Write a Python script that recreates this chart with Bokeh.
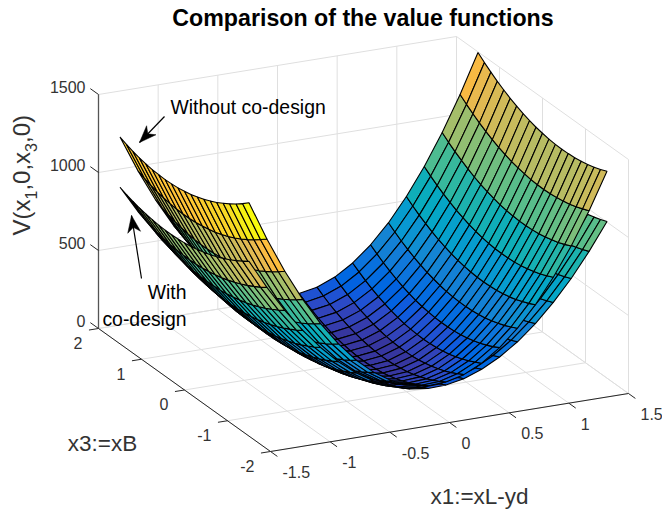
from bokeh.plotting import figure
from bokeh.embed import file_html
from bokeh.resources import INLINE
from bokeh.core.properties import value
import math

x1_grid = [-1.5,-1.35,-1.2,-1.05,-0.9,-0.75,-0.6,-0.45,-0.3,-0.15,0,0.15,0.3,0.45,0.6,0.75,0.9,1.05,1.2,1.35,1.5]
x3_grid = [-1.5,-1.35,-1.2,-1.05,-0.9,-0.75,-0.6,-0.45,-0.3,-0.15,0,0.15,0.3,0.45,0.6,0.75,0.9,1.05,1.2,1.35,1.5]

# rows: x1, columns: x3
V_without = [
[1496,1461,1429,1400,1374,1350,1330,1311,1296,1283,1274,1266,1262,1260,1262,1265,1272,1281,1293,1308,1326],
[1245,1212,1181,1152,1127,1104,1084,1067,1052,1041,1032,1025,1022,1021,1023,1028,1035,1045,1058,1074,1092],
[1020,987,957,930,905,883,864,848,834,823,815,810,807,807,810,815,824,835,848,865,884],
[821,789,759,733,709,688,670,654,641,631,624,619,618,619,622,629,638,650,664,682,702],
[647,616,587,562,539,518,501,486,474,465,459,455,454,456,460,467,477,490,506,524,545],
[498,468,440,416,393,374,357,344,332,324,318,316,315,318,323,331,342,356,372,391,413],
[375,346,319,295,274,255,239,226,216,209,204,202,203,206,212,221,233,247,264,284,307],
[277,249,223,200,179,162,147,135,125,119,115,113,115,119,126,136,149,164,182,203,226],
[205,177,152,130,110,94,80,68,60,54,51,51,53,58,66,77,90,106,125,147,171],
[159,132,107,86,67,51,38,28,20,15,13,13,17,23,31,43,57,74,94,116,142],
[137,111,88,67,49,34,22,12,6,1,0,1,6,12,22,34,49,67,88,111,137],
[142,116,94,74,57,43,31,23,17,13,13,15,20,28,38,51,67,86,107,132,159],
[171,147,125,106,90,77,66,58,53,51,51,54,60,68,80,94,110,130,152,177,205],
[226,203,182,164,149,136,126,119,115,113,115,119,125,135,147,162,179,200,223,249,277],
[307,284,264,247,233,221,212,206,203,202,204,209,216,226,239,255,274,295,319,346,375],
[413,391,372,356,342,331,323,318,315,316,318,324,332,344,357,374,393,416,440,468,498],
[545,524,506,490,477,467,460,456,454,455,459,465,474,486,501,518,539,562,587,616,647],
[702,682,664,650,638,629,622,619,618,619,624,631,641,654,670,688,709,733,759,789,821],
[884,865,848,835,824,815,810,807,807,810,815,823,834,848,864,883,905,930,957,987,1020],
[1092,1074,1058,1045,1035,1028,1023,1021,1022,1025,1032,1041,1052,1067,1084,1104,1127,1152,1181,1212,1245],
[1326,1308,1293,1281,1272,1265,1262,1260,1262,1266,1274,1283,1296,1311,1330,1350,1374,1400,1429,1461,1496],
]
V_with = [
[1120,1092,1066,1042,1021,1002,985,971,959,950,943,938,936,936,939,944,951,961,973,987,1004],
[935,907,882,859,838,820,804,790,779,770,764,760,758,759,762,767,775,785,798,813,831],
[769,742,717,694,674,656,641,628,618,609,603,600,599,600,604,610,618,629,643,658,676],
[622,595,571,549,529,512,497,485,475,467,462,459,459,461,465,472,481,492,506,522,541],
[494,467,444,422,403,387,372,361,351,344,339,337,337,340,345,352,361,373,388,405,424],
[384,358,335,314,296,280,266,255,246,240,236,234,235,238,243,251,261,274,289,306,326],
[293,268,246,226,208,192,179,169,160,154,151,150,151,155,161,169,180,193,209,227,247],
[222,197,175,155,138,123,111,101,93,88,85,84,86,90,97,106,117,131,147,166,187],
[169,145,123,104,88,73,61,52,45,40,38,38,40,45,52,62,74,88,105,124,145],
[135,111,90,72,56,42,31,22,15,11,9,10,13,18,26,36,49,64,81,101,123],
[119,97,76,58,43,30,19,11,5,1,0,1,5,11,19,30,43,58,76,97,119],
[123,101,81,64,49,36,26,18,13,10,9,11,15,22,31,42,56,72,90,111,135],
[145,124,105,88,74,62,52,45,40,38,38,40,45,52,61,73,88,104,123,145,169],
[187,166,147,131,117,106,97,90,86,84,85,88,93,101,111,123,138,155,175,197,222],
[247,227,209,193,180,169,161,155,151,150,151,154,160,169,179,192,208,226,246,268,293],
[326,306,289,274,261,251,243,238,235,234,236,240,246,255,266,280,296,314,335,358,384],
[424,405,388,373,361,352,345,340,337,337,339,344,351,361,372,387,403,422,444,467,494],
[541,522,506,492,481,472,465,461,459,459,462,467,475,485,497,512,529,549,571,595,622],
[676,658,643,629,618,610,604,600,599,600,603,609,618,628,641,656,674,694,717,742,769],
[831,813,798,785,775,767,762,759,758,760,764,770,779,790,804,820,838,859,882,907,935],
[1004,987,973,961,951,944,939,936,936,938,943,950,959,971,985,1002,1021,1042,1066,1092,1120],
]

x1_ticks=[-1.5,-1,-0.5,0,0.5,1,1.5]; x1_labels=["-1.5","-1","-0.5","0","0.5","1","1.5"]
x3_ticks=[-2,-1,0,1,2]; x3_labels=["-2","-1","0","1","2"]
z_ticks=[0,500,1000,1500]; z_labels=["0","500","1000","1500"]
title="Comparison of the value functions"
annotation_without="Without co-design"
annotation_with=["With","co-design"]
x1_name="x1:=xL-yd"; x3_name="x3:=xB"

PARULA=[[0.2081,0.1663,0.5292],[0.2116,0.1898,0.5777],[0.2123,0.2138,0.6270],[0.2081,0.2386,0.6771],[0.1959,0.2645,0.7279],[0.1707,0.2919,0.7792],[0.1253,0.3242,0.8303],[0.0591,0.3598,0.8683],[0.0117,0.3875,0.8820],[0.0060,0.4086,0.8828],[0.0165,0.4266,0.8786],[0.0329,0.4430,0.8720],[0.0498,0.4586,0.8641],[0.0629,0.4737,0.8554],[0.0723,0.4887,0.8467],[0.0779,0.5040,0.8384],[0.0793,0.5200,0.8312],[0.0749,0.5375,0.8263],[0.0641,0.5570,0.8240],[0.0488,0.5772,0.8228],[0.0343,0.5966,0.8199],[0.0265,0.6137,0.8135],[0.0239,0.6287,0.8038],[0.0231,0.6418,0.7913],[0.0228,0.6535,0.7768],[0.0267,0.6642,0.7607],[0.0384,0.6743,0.7436],[0.0590,0.6838,0.7254],[0.0843,0.6928,0.7062],[0.1133,0.7015,0.6859],[0.1453,0.7098,0.6646],[0.1801,0.7177,0.6424],[0.2178,0.7250,0.6193],[0.2586,0.7317,0.5954],[0.3022,0.7376,0.5712],[0.3482,0.7424,0.5473],[0.3953,0.7459,0.5244],[0.4420,0.7481,0.5033],[0.4871,0.7491,0.4840],[0.5300,0.7491,0.4661],[0.5709,0.7485,0.4494],[0.6099,0.7473,0.4337],[0.6473,0.7456,0.4188],[0.6834,0.7435,0.4044],[0.7184,0.7411,0.3905],[0.7525,0.7384,0.3768],[0.7858,0.7356,0.3633],[0.8185,0.7327,0.3498],[0.8507,0.7299,0.3360],[0.8824,0.7274,0.3217],[0.9139,0.7258,0.3063],[0.9450,0.7261,0.2886],[0.9739,0.7314,0.2666],[0.9938,0.7455,0.2403],[0.9990,0.7653,0.2164],[0.9955,0.7861,0.1967],[0.9880,0.8066,0.1794],[0.9789,0.8271,0.1633],[0.9697,0.8481,0.1475],[0.9626,0.8705,0.1309],[0.9589,0.8949,0.1132],[0.9598,0.9218,0.0948],[0.9661,0.9514,0.0755],[0.9763,0.9831,0.0538]]
CMAX=1497.0
def col(v):
    k=min(63,int(v/CMAX*62)+2)
    r,g,b=PARULA[k]
    return "#%02x%02x%02x"%(int(r*255),int(g*255),int(b*255))

# orthographic view of the 3-D box
def U(x1,x3): return 363+119.33*x1-43*x3
def W(x1,x3,z): return 360.5-19.33*x1-30.75*x3-0.156*z
def depth(x1,x3,z): return -40248*x1/3-83772*x3/4+54010*z/1500

p=figure(width=662,height=510,x_range=(0,662),y_range=(510,0),output_backend="svg",toolbar_location=None,
         min_border=0,outline_line_color=None,background_fill_color="white")
p.xaxis.visible=False;p.yaxis.visible=False;p.grid.visible=False
FONT=value("Liberation Sans");DARK="#333333"
def seg(a,b,color,w=1.0):
    p.line([U(a[0],a[1]),U(b[0],b[1])],[W(*a),W(*b)],line_color=color,line_width=w)
GRID="#dfdfdf"
for t in x1_ticks:
    seg((t,-2,0),(t,2,0),GRID); seg((t,2,0),(t,2,1500),GRID)
for t in x3_ticks:
    seg((-1.5,t,0),(1.5,t,0),GRID); seg((1.5,t,0),(1.5,t,1500),GRID)
for z in z_ticks:
    seg((-1.5,2,z),(1.5,2,z),GRID); seg((1.5,2,z),(1.5,-2,z),GRID)
AX="#262626"
seg((-1.5,2,0),(-1.5,-2,0),AX);seg((-1.5,-2,0),(1.5,-2,0),AX);seg((-1.5,2,0),(-1.5,2,1500),"#555555",1.3)
for t in x3_ticks: seg((-1.5,t,0),(-1.58,t,0),AX)
for t in x1_ticks: seg((t,-2,0),(t,-2.16,0),AX)
for z in z_ticks: seg((-1.5,2,z),(-1.5,2.19,z),AX)

faces=[]
for V in (V_without,V_with):
    for i in range(20):
        for j in range(20):
            idx=[(i,j),(i+1,j),(i+1,j+1),(i,j+1)]
            xs=[x1_grid[a] for a,b in idx];ys=[x3_grid[b] for a,b in idx];zs=[V[a][b] for a,b in idx]
            faces.append((depth(sum(xs)/4,sum(ys)/4,sum(zs)/4),
                          [U(a,b) for a,b in zip(xs,ys)],[W(a,b,c) for a,b,c in zip(xs,ys,zs)],col(V[i][j])))
faces.sort(key=lambda f:f[0])
p.patches([f[1] for f in faces],[f[2] for f in faces],fill_color=[f[3] for f in faces],line_color="black",line_width=1.1)

def label(x,y,t,size,align="center",bl="middle",color=DARK,style="normal",angle=0):
    p.text([x],[y],[t],text_font=FONT,text_font_size=f"{size}px",text_align=align,text_baseline=bl,text_color=color,text_font_style=style,angle=angle)
for t,s in zip(x1_ticks,x1_labels): label(U(t,-2)+12,W(t,-2,0)+20.5,s,16,"left")
for t,s in zip(x3_ticks,x3_labels): label(U(-1.5,t)-16,W(-1.5,t,0)+14.5,s,16,"right")
for z,s in zip(z_ticks,z_labels): label(85,W(-1.5,2,z)-7,s,16,"right")
label(362.5,17,title,23.2,style="bold",color="black")
label(102,443,x3_name,22.5,"center")
label(479,496,x1_name,22.5,"center")
label(170,106,annotation_without,19.4,"left",color="black")
label(186,291,annotation_with[0],19.4,"right",color="black")
label(186,318,annotation_with[1],19.4,"right",color="black")
a=math.pi/2
y=235
for t,s,x,w in [("V(x",24,21,1.5),("1",16,30.5,.556),(",0,x",24,21,1.612),("3",16,30.5,.556),(",0)",24,21,1.167)]:
    label(x,y,t,s,"left","alphabetic",angle=a)
    y-=w*s
def arrow(x0,y0,x1,y1):
    p.line([x0,x1],[y0,y1],line_color="black",line_width=1.2)
    dx,dy=x1-x0,y1-y0;L=math.hypot(dx,dy);dx/=L;dy/=L
    n=(-dy,dx);H=17;Wd=6.5;N=12
    p.patch([x1,x1-dx*H+n[0]*Wd,x1-dx*N,x1-dx*H-n[0]*Wd],[y1,y1-dy*H+n[1]*Wd,y1-dy*N,y1-dy*H-n[1]*Wd],fill_color="black",line_color="black",line_width=0.5)
arrow(164,116,139,142)
arrow(141,278,131,215)
open("out.html","w").write(file_html(p,INLINE))
